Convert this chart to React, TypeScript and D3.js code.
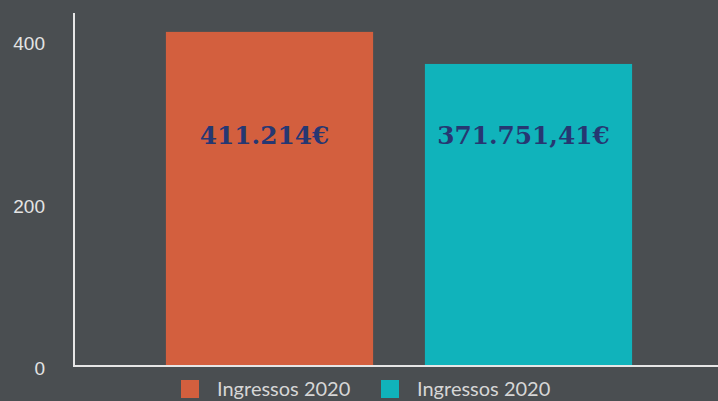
import React, {useRef, useEffect} from "react";
import * as d3 from "d3";

const categories = ["Ingressos 2020 A", "Ingressos 2020 B"];
const legendLabels = ["Ingressos 2020", "Ingressos 2020"];
const values = [411.214, 371.75141];
const valueLabels = ["411.214€", "371.751,41€"];
const barColors = ["#d35f3e", "#10b3bb"];
const yTicks = [0, 200, 400];

const App = () => {
    const ref = useRef<SVGSVGElement>(null);

    useEffect(() => {
        const svgWidth = 718
        const svgHeight = 401
        const bg = "#4a4e51"
        const axisColor = "#e6e6e6"

        const svg = d3.select(ref.current)
            .attr("width", svgWidth)
            .attr("height", svgHeight)

        svg.selectAll("*").remove();

        svg.append("rect")
            .attr("width", svgWidth)
            .attr("height", svgHeight)
            .attr("fill", bg)

        const xScale = d3.scaleBand()
            .domain(categories)
            .range([75, 723])
            .paddingInner(0.2)
            .paddingOuter(0.351)

        const yScale = d3.scaleLinear()
            .domain([0, 400])
            .range([366, 41])

        // bars
        svg.selectAll("rect.bar")
            .data(values)
            .enter()
            .append("rect")
            .attr("class", "bar")
            .attr("x", (d, i) => xScale(categories[i]))
            .attr("y", d => yScale(d))
            .attr("width", xScale.bandwidth())
            .attr("height", d => yScale(0) - yScale(d))
            .attr("fill", (d, i) => barColors[i])

        // value labels inside bars (sit a little left of bar centre)
        svg.selectAll("text.valuelabel")
            .data(valueLabels)
            .enter()
            .append("text")
            .attr("class", "valuelabel")
            .attr("x", (d, i) => xScale(categories[i]) + xScale.bandwidth() / 2 - 5)
            .attr("y", 144)
            .attr("text-anchor", "middle")
            .style("font-family", "'DejaVu Serif', serif")
            .style("font-weight", "bold")
            .style("font-size", "24.8px")
            .style("fill", "#263772")
            .text(d => d)

        // y tick labels
        svg.selectAll("text.ytick")
            .data(yTicks)
            .enter()
            .append("text")
            .attr("class", "ytick")
            .attr("x", 45)
            .attr("y", d => yScale(d) + 9)
            .attr("text-anchor", "end")
            .style("font-family", "'Liberation Sans', Arial, sans-serif")
            .style("font-size", "19px")
            .style("fill", "#e4e4e4")
            .text(d => d)

        // axis lines
        svg.append("line")
            .attr("x1", 74).attr("x2", 74)
            .attr("y1", 13).attr("y2", 366)
            .attr("stroke", axisColor)
            .attr("stroke-width", 2)

        svg.append("line")
            .attr("x1", 73).attr("x2", svgWidth)
            .attr("y1", 366).attr("y2", 366)
            .attr("stroke", axisColor)
            .attr("stroke-width", 2)

        // legend
        const legend = svg.append("g")
        const legendX = [181, 381]
        legendLabels.forEach((label, i) => {
            legend.append("rect")
                .attr("x", legendX[i])
                .attr("y", 380)
                .attr("width", 18)
                .attr("height", 18)
                .attr("fill", barColors[i])
            legend.append("text")
                .attr("x", legendX[i] + 36)
                .attr("y", 396)
                .style("font-family", "Lato, sans-serif")
                .style("font-size", "20px")
                .style("fill", "#d6d6d6")
                .text(label)
        })
    }, []);

    return (
        <div style={{position: "absolute", left: 0, top: 0}}>
            <svg ref={ref} style={{display: "block"}}></svg>
        </div>
    )
}

export default App
